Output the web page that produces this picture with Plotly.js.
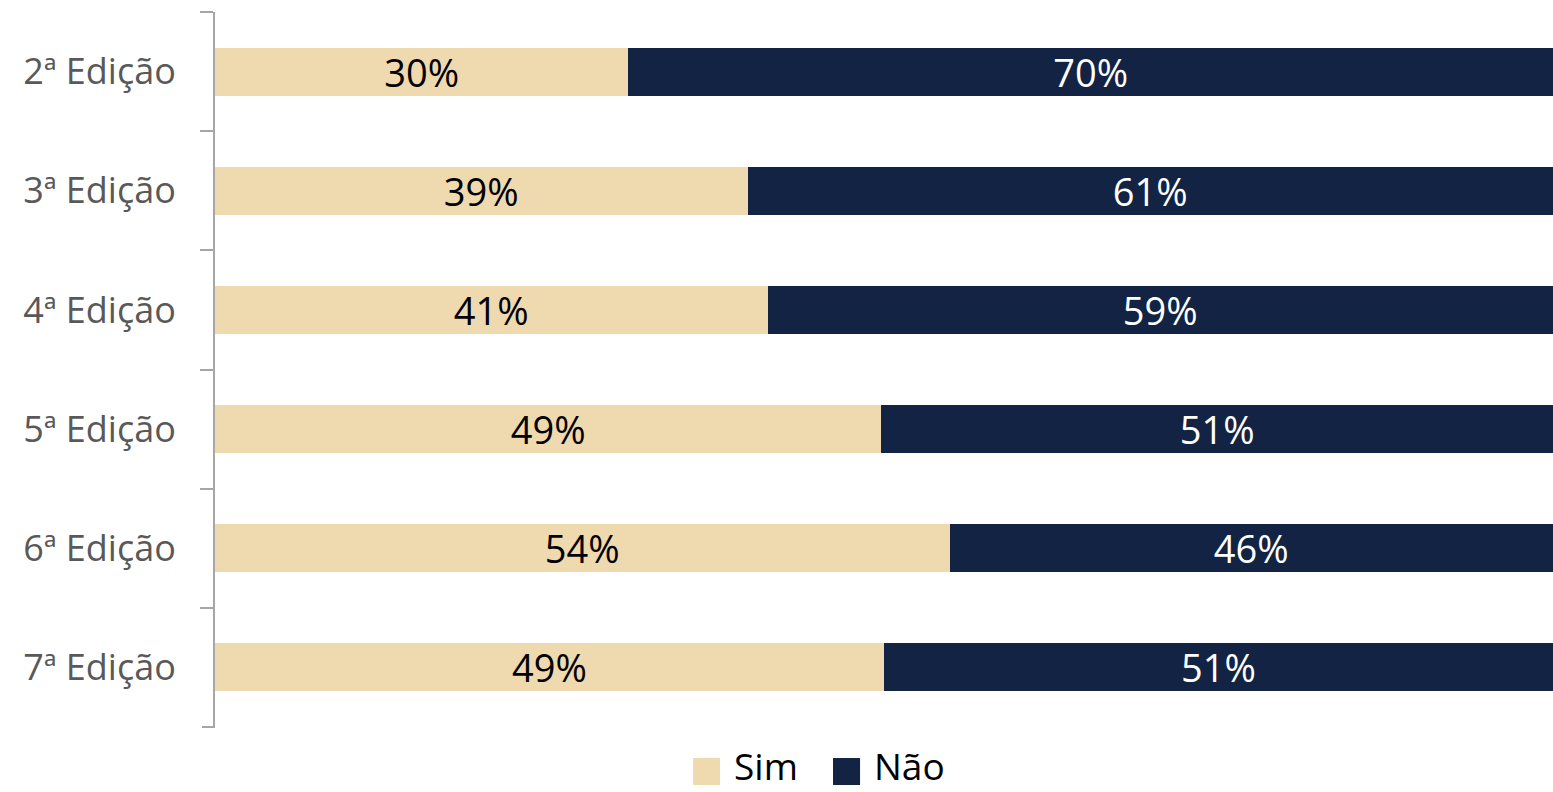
<!DOCTYPE html>
<html>
<head>
<meta charset="utf-8">
<script src="https://cdn.plot.ly/plotly-3.0.1.min.js"></script>
<style>
html,body{margin:0;padding:0;background:#fff;}
#chart{width:1553px;height:792px;}
</style>
</head>
<body>
<div id="chart"></div>
<script>
var categories = ["2ª Edição", "3ª Edição", "4ª Edição", "5ª Edição", "6ª Edição", "7ª Edição"];
var simValues = [30.9, 39.8, 41.3, 49.8, 54.9, 50.0];
var naoValues = [69.1, 60.2, 58.7, 50.2, 45.1, 50.0];
var simLabels = ["30%", "39%", "41%", "49%", "54%", "49%"];
var naoLabels = ["70%", "61%", "59%", "51%", "46%", "51%"];
var seriesNames = ["Sim", "Não"];
var seriesColors = ["#EFD9AF", "#122344"];
var labelColors = ["#000000", "#FFFFFF"];

var FONT = "'Open Sans', 'Noto Sans', sans-serif";

function barTrace(name, values, labels, color, txtColor) {
  return {
    type: "bar",
    orientation: "h",
    name: name,
    y: categories,
    x: values,
    text: labels,
    texttemplate: "%{text}",
    textposition: "inside",
    insidetextanchor: "middle",
    constraintext: "none",
    textfont: {family: FONT, size: 38, color: txtColor},
    marker: {color: color, line: {width: 0}},
    hoverinfo: "none",
    showlegend: false
  };
}

var data = [
  barTrace(seriesNames[0], simValues, simLabels, seriesColors[0], labelColors[0]),
  barTrace(seriesNames[1], naoValues, naoLabels, seriesColors[1], labelColors[1])
];

// manual legend with large square swatches
var legendX = [0.3573, 0.4619];
var swW = 0.0202;
var shapes = [], annotations = [];
for (var i = 0; i < seriesNames.length; i++) {
  shapes.push({
    type: "rect", xref: "paper", yref: "paper",
    x0: legendX[i], x1: legendX[i] + swW, y0: -0.0811, y1: -0.0434,
    fillcolor: seriesColors[i], line: {width: 0}
  });
  annotations.push({
    xref: "paper", yref: "paper", x: legendX[i] + 0.0298, y: -0.0545,
    xanchor: "left", yanchor: "middle", showarrow: false, borderpad: 0,
    text: seriesNames[i], font: {family: FONT, size: 37, color: "#000000"}
  });
}
// bottom end tick of the category axis
shapes.push({
  type: "line", xref: "paper", yref: "paper",
  x0: -13 / 1338, x1: 0, y0: 0, y1: 0,
  line: {color: "#A6A6A6", width: 2}
});

var layout = {
  width: 1553, height: 792,
  margin: {l: 215, r: 0, t: 12, b: 65, pad: 0},
  paper_bgcolor: "#ffffff", plot_bgcolor: "#ffffff",
  barmode: "stack",
  bargap: 0.597,
  showlegend: false,
  font: {family: FONT},
  xaxis: {range: [0, 100], visible: false, fixedrange: true},
  yaxis: {
    type: "category",
    range: [5.5, -0.5],
    showline: true, linecolor: "#A6A6A6", linewidth: 2,
    ticks: "outside", tickson: "boundaries", ticklen: 13, tickwidth: 2, tickcolor: "#A6A6A6",
    tickfont: {family: FONT, size: 36, color: "#595959"},
    ticklabelstandoff: 30,
    showgrid: false, zeroline: false, fixedrange: true
  },
  shapes: shapes,
  annotations: annotations
};

Plotly.newPlot("chart", data, layout, {displayModeBar: false, staticPlot: true});
</script>
</body>
</html>
